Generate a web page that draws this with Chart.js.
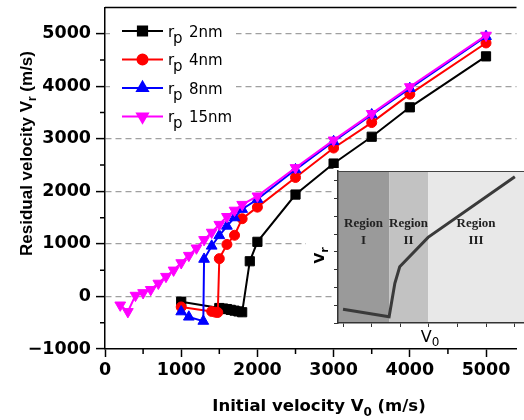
<!DOCTYPE html>
<html>
<head>
<meta charset="utf-8">
<script src="https://cdn.jsdelivr.net/npm/chart.js"></script>
<style>
  body { margin: 0; background: #fff; overflow: hidden; }
  #wrap { position: relative; width: 524px; height: 420px; }
  canvas { display: block; }
  #insetChart { position: absolute; left: 300px; top: 160px; }
</style>
</head>
<body>
<div id="wrap">
  <canvas id="mainChart" width="524" height="420"></canvas>
  <canvas id="insetChart" width="224" height="190"></canvas>
</div>
<script>
// ---- data ----
const v0_2nm = [1000, 1500, 1550, 1600, 1650, 1700, 1750, 1800, 1900, 2000, 2500, 3000, 3500, 4000, 5000];
const vr_2nm = [-100, -220, -230, -240, -255, -270, -285, -300, 670, 1040, 1940, 2530, 3040, 3600, 4570];

const v0_4nm = [1000, 1400, 1450, 1480, 1500, 1600, 1700, 1800, 2000, 2500, 3000, 3500, 4000, 5000];
const vr_4nm = [-200, -285, -300, -305, 720, 990, 1165, 1480, 1700, 2265, 2825, 3310, 3850, 4825];

const v0_8nm = [1000, 1100, 1290, 1300, 1400, 1500, 1600, 1700, 1800, 2000, 2500, 3000, 3500, 4000, 5000];
const vr_8nm = [-290, -390, -470, 710, 960, 1160, 1340, 1500, 1660, 1850, 2415, 2950, 3460, 3960, 4950];

const v0_15nm = [200, 300, 400, 500, 600, 700, 800, 900, 1000, 1100, 1200, 1300, 1400, 1500, 1600, 1700, 1800, 2000, 2500, 3000, 3500, 4000, 5000];
const vr_15nm = [-165, -290, 20, 70, 130, 250, 380, 500, 640, 780, 920, 1080, 1220, 1370, 1520, 1640, 1750, 1910, 2450, 2975, 3480, 3990, 4970];

const seriesNames = ['2nm', '4nm', '8nm', '15nm'];
const xTicks = [0, 1000, 2000, 3000, 4000, 5000];
const yTicks = [-1000, 0, 1000, 2000, 3000, 4000, 5000];

// inset sketch (arbitrary units)
const insetV0 = [0, 1.61, 1.81, 1.98, 2.97, 6.0];
const insetVr = [0.77, 0.35, 2.23, 3.16, 4.81, 8.22];
const insetXTicks = [0, 1, 2, 3, 4, 5, 6];
const insetYTicks = [0, 1, 2, 3, 4, 5, 6, 7, 8];
const regionEdges = [1.61, 2.97];
const regionNames = ['I', 'II', 'III'];

// ---- helpers ----
const pts = (xs, ys) => xs.map((x, i) => ({x: x, y: ys[i]}));
const fixTicks = list => s => { s.ticks = list.map(v => ({value: v})); };

function drawRich(ctx, parts, x, y, font, subFont, subDy) {
  let w = 0;
  parts.forEach(p => { ctx.font = p.sub ? subFont : font; w += ctx.measureText(p.t).width; });
  let cx = x - w / 2;
  ctx.textAlign = 'left';
  ctx.textBaseline = 'alphabetic';
  parts.forEach(p => {
    ctx.font = p.sub ? subFont : font;
    ctx.fillText(p.t, cx, y + (p.sub ? subDy : 0));
    cx += ctx.measureText(p.t).width;
  });
}

const styles = [
  {color: '#000000', pointStyle: 'rect', radius: 6.5, rotation: 0},
  {color: '#ff0000', pointStyle: 'circle', radius: 5, rotation: 0},
  {color: '#0000ff', pointStyle: 'triangle', radius: 6.2, rotation: 0},
  {color: '#ff00ff', pointStyle: 'triangle', radius: 6.2, rotation: 180}
];
const xs = [v0_2nm, v0_4nm, v0_8nm, v0_15nm];
const ys = [vr_2nm, vr_4nm, vr_8nm, vr_15nm];

const tickFont = {family: 'DejaVu Sans', size: 17.5, weight: 'bold'};

const mainDecor = {
  id: 'mainDecor',
  afterDraw(chart) {
    const ctx = chart.ctx;
    const a = chart.chartArea;
    const sx = chart.scales.x, sy = chart.scales.y;
    ctx.save();
    ctx.strokeStyle = '#000';
    ctx.lineWidth = 1.5;
    // top frame line
    ctx.beginPath();
    ctx.moveTo(a.left, a.top);
    ctx.lineTo(a.right, a.top);
    ctx.stroke();
    // minor ticks
    ctx.beginPath();
    for (let v = -500; v <= 4500; v += 1000) {
      const p = sy.getPixelForValue(v);
      ctx.moveTo(a.left - 5, p);
      ctx.lineTo(a.left, p);
    }
    for (let v = 500; v < sx.max; v += 1000) {
      const p = sx.getPixelForValue(v);
      ctx.moveTo(p, a.bottom);
      ctx.lineTo(p, a.bottom + 5);
    }
    ctx.stroke();

    // legend
    ctx.fillStyle = '#fff';
    ctx.fillRect(110, 14, 126, 114);
    const rows = [31, 59.5, 88, 116.5];
    styles.forEach((s, i) => {
      const y = rows[i];
      ctx.strokeStyle = s.color;
      ctx.fillStyle = s.color;
      ctx.lineWidth = 2;
      ctx.beginPath();
      ctx.moveTo(122, y);
      ctx.lineTo(163, y);
      ctx.stroke();
      Chart.helpers.drawPoint(ctx, {pointStyle: s.pointStyle, radius: s.radius, rotation: s.rotation, borderWidth: 1}, 142.5, y);
      ctx.fillStyle = '#000';
      ctx.textAlign = 'left';
      ctx.textBaseline = 'alphabetic';
      ctx.font = '15px "DejaVu Sans"';
      ctx.fillText('r', 168, y + 5.5);
      ctx.fillText('p', 173, y + 11.5);
      ctx.fillText(seriesNames[i], 189, y + 5.5);
    });

    // axis titles
    ctx.fillStyle = '#000';
    drawRich(ctx, [{t: 'Initial velocity V'}, {t: '0', sub: true}, {t: ' (m/s)'}],
      319, 410.5, 'bold 16.5px "DejaVu Sans"', 'bold 12px "DejaVu Sans"', 5);
    ctx.translate(31.5, 153.5);
    ctx.rotate(-Math.PI / 2);
    drawRich(ctx, [{t: 'Residual velocity V'}, {t: 'r', sub: true}, {t: ' (m/s)'}],
      0, 0, 'bold 17px "Liberation Sans"', 'bold 12px "Liberation Sans"', 4);
    ctx.restore();
  }
};

new Chart(document.getElementById('mainChart'), {
  type: 'scatter',
  data: {
    datasets: styles.map((s, i) => ({
      label: seriesNames[i],
      data: pts(xs[i], ys[i]),
      showLine: true,
      borderColor: s.color,
      backgroundColor: s.color,
      borderWidth: 2,
      pointStyle: s.pointStyle,
      pointRadius: s.radius,
      pointRotation: s.rotation,
      pointBorderWidth: 1,
      order: 3 - i
    }))
  },
  options: {
    responsive: false,
    animation: false,
    events: [],
    layout: {padding: {top: 7, right: 0, left: 0, bottom: 0}},
    plugins: {legend: {display: false}, tooltip: {enabled: false}},
    scales: {
      x: {
        type: 'linear', min: 0, max: 5400,
        afterBuildTicks: fixTicks(xTicks),
        ticks: {font: tickFont, color: '#000', padding: 3, maxRotation: 0, autoSkip: false, callback: v => String(v)},
        grid: {drawOnChartArea: false, tickLength: 8, tickColor: '#000', tickWidth: 1.5},
        border: {color: '#000', width: 1.5},
        afterFit: s => { s.height = 71; s.paddingLeft = 0; s.paddingRight = 0; }
      },
      y: {
        type: 'linear', min: -1000, max: 5500,
        afterBuildTicks: fixTicks(yTicks),
        ticks: {font: tickFont, color: '#000', padding: 5, autoSkip: false,
                callback: v => v < 0 ? '\u2212' + String(-v) : String(v)},
        grid: {
          color: c => (c.tick && c.tick.value >= 0) ? '#a0a0a0' : 'rgba(0,0,0,0)',
          lineWidth: 1.2, tickLength: 9, tickColor: '#000', tickWidth: 1.5
        },
        border: {color: '#000', width: 1.5, dash: [6, 4]},
        afterFit: s => { s.width = 105; s.paddingTop = 0; s.paddingBottom = 0; }
      }
    }
  },
  plugins: [mainDecor]
});

// ---- inset ----
const regionColors = ['#9a9a9a', '#c2c2c2', '#e8e8e8'];

const insetDecor = {
  id: 'insetDecor',
  beforeDraw(chart) {
    const ctx = chart.ctx;
    const a = chart.chartArea;
    const sx = chart.scales.x;
    ctx.save();
    ctx.fillStyle = '#fff';
    ctx.fillRect(33.5, 8, 190.5, 160);
    ctx.fillRect(6, 80, 28, 32);
    const edges = [a.left, sx.getPixelForValue(regionEdges[0]), sx.getPixelForValue(regionEdges[1]), a.right];
    regionColors.forEach((c, i) => {
      ctx.fillStyle = c;
      ctx.fillRect(edges[i], a.top, edges[i + 1] - edges[i], a.bottom - a.top);
    });
    ctx.restore();
  },
  afterDraw(chart) {
    const ctx = chart.ctx;
    const a = chart.chartArea;
    const sx = chart.scales.x;
    ctx.save();
    ctx.strokeStyle = '#444';
    ctx.lineWidth = 1;
    ctx.beginPath();
    ctx.moveTo(a.left, a.top + 0.5);
    ctx.lineTo(a.right, a.top + 0.5);
    ctx.stroke();

    const edges = [a.left, sx.getPixelForValue(regionEdges[0]), sx.getPixelForValue(regionEdges[1]), a.right];
    ctx.fillStyle = '#222';
    ctx.font = 'bold 13px "Liberation Serif"';
    ctx.textAlign = 'center';
    ctx.textBaseline = 'alphabetic';
    regionNames.forEach((n, i) => {
      const cx = (edges[i] + edges[i + 1]) / 2;
      ctx.fillText('Region', cx, a.top + 55.7);
      ctx.fillText(n, cx, a.top + 72.5);
    });

    ctx.fillStyle = '#000';
    drawRich(ctx, [{t: 'V'}, {t: '0', sub: true}], 130, 181.5, '16px "DejaVu Sans"', '12px "DejaVu Sans"', 4);
    ctx.translate(23.5, 103.5);
    ctx.rotate(-Math.PI / 2);
    ctx.textAlign = 'left';
    ctx.font = 'bold 14px "DejaVu Sans"';
    ctx.fillText('V', 0, 0);
    const w = ctx.measureText('V').width;
    ctx.font = 'bold 11px "DejaVu Sans"';
    ctx.fillText('r', w, 4);
    ctx.restore();
  }
};

new Chart(document.getElementById('insetChart'), {
  type: 'scatter',
  data: {
    datasets: [{
      data: pts(insetV0, insetVr),
      showLine: true,
      borderColor: '#3a3a3a',
      borderWidth: 3,
      pointRadius: 0
    }]
  },
  options: {
    responsive: false,
    animation: false,
    events: [],
    layout: {padding: {top: 11, right: 0, left: 0, bottom: 0}},
    plugins: {legend: {display: false}, tooltip: {enabled: false}},
    scales: {
      x: {
        type: 'linear', min: -0.175, max: 6.32,
        afterBuildTicks: fixTicks(insetXTicks),
        ticks: {display: false},
        grid: {drawOnChartArea: false, tickLength: 4, tickColor: '#333', tickWidth: 1},
        border: {color: '#333', width: 1.5},
        afterFit: s => { s.height = 27; s.paddingLeft = 0; s.paddingRight = 0; }
      },
      y: {
        type: 'linear', min: 0, max: 8.54,
        afterBuildTicks: fixTicks(insetYTicks),
        ticks: {display: false},
        grid: {drawOnChartArea: false, tickLength: 4, tickColor: '#333', tickWidth: 1},
        border: {color: '#333', width: 1.5},
        afterFit: s => { s.width = 38; s.paddingTop = 0; s.paddingBottom = 0; }
      }
    }
  },
  plugins: [insetDecor]
});
</script>
</body>
</html>
